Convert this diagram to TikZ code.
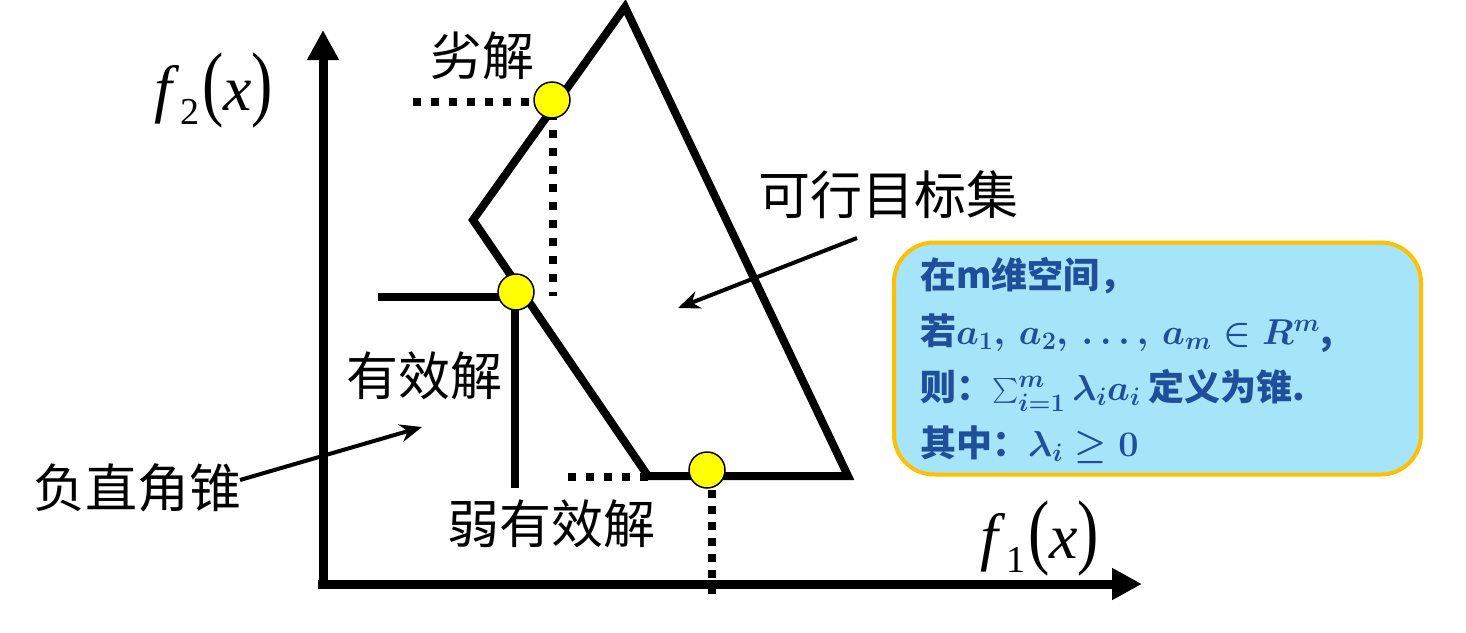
\RequirePackage{fix-cm}
\documentclass[tikz,border=0pt]{standalone}
\usepackage{fontspec}
\usepackage{amsmath}
\usetikzlibrary{arrows.meta}
\newfontfamily\cjk{Noto Sans CJK SC}
\newfontfamily\tnr{Liberation Serif}
\definecolor{boxfill}{HTML}{A6E4FA}
\definecolor{boxedge}{HTML}{FFC000}
\definecolor{boxtext}{HTML}{1F4E9A}
\definecolor{dotyellow}{HTML}{FFFF00}
\tikzset{
  axis/.style={line width=9pt,-{Triangle[length=30pt,width=30pt]}},
  edge/.style={line width=8pt,line join=miter},
  dots/.style={line width=8pt,dash pattern=on 8pt off 10pt},
  pt/.style={circle,draw=black,line width=1.5pt,fill=dotyellow,minimum size=36pt,inner sep=0pt},
  lab/.style={font=\cjk\fontsize{52}{56}\selectfont,inner sep=0pt},
  ptr/.style={line width=4pt,-{Stealth[length=22pt,width=18pt]}},
  fx/.style={font=\tnr\fontsize{64}{66}\selectfont,inner sep=0pt}
}
\newcommand{\fxlabel}[1]{\textit{f}\raisebox{-0.22em}{\fontsize{38}{40}\selectfont #1}\hspace{3pt}\scalebox{1}[1.3]{(}\textit{x}\scalebox{1}[1.3]{)}}
\begin{document}
\begin{tikzpicture}[x=1pt,y=-1pt]
\useasboundingbox (0,0) rectangle (1466,632);
% axes
\coordinate (O) at (323,584);
\coordinate (Ytip) at (323,30);
\coordinate (Xtip) at (1142,584);
\draw[axis] ([yshift=4pt]O) -- (Ytip);
\draw[axis] ([xshift=-5pt]O) -- (Xtip);
\node[fx] (f2) at (214,90) {\fxlabel{2}};
\node[fx] (f1) at (1040,538) {\fxlabel{1}};
% feasible set
\coordinate (A) at (625,7);
\coordinate (L) at (473,220);
\coordinate (BL) at (648,476);
\coordinate (BR) at (848,476);
\draw[edge] (A) -- (L) -- (BL) -- (BR) -- cycle;
% cone
\coordinate (C0) at (515,297);
\coordinate (Cl) at (378,297);
\coordinate (Cb) at (515,488);
\draw[line width=8pt] (Cl) -- (C0) -- (Cb);
% dotted lines
\coordinate (D1a) at (413,102);
\coordinate (D1b) at (540,102);
\coordinate (D2a) at (553,112);
\coordinate (D2b) at (553,296);
\coordinate (D3a) at (568,477);
\coordinate (D3b) at (648,477);
\coordinate (D4a) at (712,490);
\coordinate (D4b) at (712,598);
\draw[dots] (D1a) -- (D1b);
\draw[dots] (D2a) -- (D2b);
\draw[dots] (D3a) -- (D3b);
\draw[dots,dash pattern=on 8pt off 8pt] (D4a) -- (D4b);
% points
\node[pt] (p1) at (552,100) {};
\node[pt] (p2) at (516,292) {};
\node[pt] (p3) at (707,470) {};
% labels
\node[lab] (lie) at (482,56) {劣解};
\node[lab] (kx) at (888,195) {可行目标集};
\node[lab] (yx) at (424,376) {有效解};
\node[lab] (fz) at (137,488) {负直角锥};
\node[lab] (ry) at (551,524) {弱有效解};
% pointers
\coordinate (kxs) at (857,238);
\coordinate (kxe) at (678,308);
\draw[ptr] (kxs) -- (kxe);
\coordinate (fzs) at (240,480);
\coordinate (fze) at (422,427);
\draw[ptr] (fzs) -- (fze);
% info box
\node[draw=boxedge,line width=4pt,fill=boxfill,rounded corners=40pt,minimum width=527pt,minimum height=232pt,inner sep=0pt] (box) at (1157.5,358.5) {};
\node[anchor=north west,text=boxtext,inner sep=0pt,align=left,font=\cjk\bfseries\boldmath\fontsize{36}{56}\selectfont] (boxtxt) at (920,257) {在m维空间，\\ 若$a_1,\, a_2,\, \ldots,\, a_m \in R^m$,\\ 则：$\sum_{i=1}^{m}\lambda_i a_i$ 定义为锥.\\ 其中：$\lambda_i \geq 0$};
\end{tikzpicture}
\end{document}
